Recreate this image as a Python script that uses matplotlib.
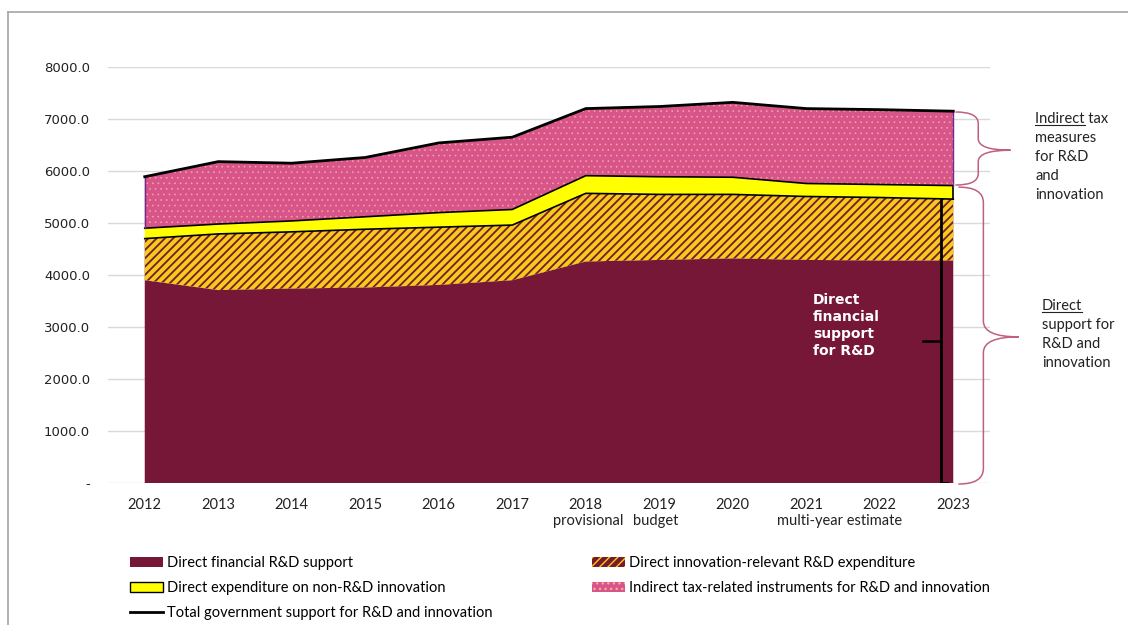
import numpy as np
import matplotlib
matplotlib.use("Agg")
import matplotlib.pyplot as plt
from matplotlib.path import Path
from matplotlib.patches import PathPatch, Patch
from matplotlib.lines import Line2D
from matplotlib.collections import LineCollection

# Government support for R&D and innovation (EUR million)
years = ["2012", "2013", "2014", "2015", "2016", "2017",
         "2018", "2019", "2020", "2021", "2022", "2023"]
year_notes = ["", "", "", "", "", "", "provisional", "budget", "", "", "", ""]
note_shift = [0, 0, 0, 0, 0, 0, 0.03, -0.05, 0, 0, 0, 0]
estimate_note = "multi-year estimate"

direct_financial = [3900, 3710, 3740, 3760, 3810, 3900, 4260, 4290, 4320, 4290, 4280, 4280]
innovation_rd = [800, 1080, 1090, 1120, 1110, 1060, 1310, 1260, 1230, 1220, 1210, 1180]
non_rd_innovation = [200, 190, 210, 240, 280, 300, 340, 340, 330, 250, 250, 260]
indirect_tax = [990, 1200, 1110, 1140, 1340, 1390, 1290, 1350, 1440, 1440, 1440, 1430]

labels = ["Direct financial R&D support",
          "Direct innovation-relevant R&D expenditure",
          "Direct expenditure on non-R&D innovation",
          "Indirect tax-related instruments for R&D and innovation",
          "Total government support for R&D and innovation"]

MAROON = "#761737"
HATCH_BG = "#7a1a26"
GOLD = "#f3cb1f"
YELLOW = "#ffff00"
PINK = "#d8558c"
DOT = "#f8ac90"
PURPLE = "#6a2c91"
BRACE = "#c0607e"

TEXT_FONT = ["Liberation Sans Narrow", "Lato", "DejaVu Sans"]

W, H = 1128, 625
AX_LEFT, AX_RIGHT, AX_TOP, AX_BOTTOM = 108, 990, 67, 483


def fx(px):
    return px / W


def fy(py):
    return 1 - py / H


def draw_brace(ax, x_end, x_spine, x_tip, y_top, y_bot, y_mid, ry):
    verts = [(x_end, y_top), (x_spine, y_top), (x_spine, y_top - ry),
             (x_spine, y_mid + ry), (x_spine, y_mid), (x_tip, y_mid),
             (x_spine, y_mid), (x_spine, y_mid - ry),
             (x_spine, y_bot + ry), (x_spine, y_bot), (x_end, y_bot)]
    codes = [Path.MOVETO, Path.CURVE3, Path.CURVE3, Path.LINETO, Path.CURVE3,
             Path.CURVE3, Path.CURVE3, Path.CURVE3, Path.LINETO, Path.CURVE3,
             Path.CURVE3]
    ax.add_patch(PathPatch(Path(verts, codes), facecolor="none", edgecolor=BRACE,
                           lw=1.1, clip_on=False, zorder=5))


def stripe_fill(ax, poly, xlim, ylim, step_px=8.3, width_pt=2.9):
    # 45-degree stripes (in screen space) clipped to the filled area
    px_per_x = (AX_RIGHT - AX_LEFT) / (xlim[1] - xlim[0])
    px_per_y = (AX_BOTTOM - AX_TOP) / (ylim[1] - ylim[0])
    slope = px_per_x / px_per_y
    step = step_px / px_per_x
    span = (ylim[1] - ylim[0]) / slope
    starts = np.arange(xlim[0] - span, xlim[1] + step, step)
    segs = [[(c, ylim[0]), (c + span, ylim[1])] for c in starts]
    lc = LineCollection(segs, colors=GOLD, linewidths=width_pt, zorder=2.1)
    ax.add_collection(lc, autolim=False)
    lc.set_clip_path(poly.get_paths()[0], ax.transData)


x = np.arange(len(years))
lvl1 = np.array(direct_financial)
lvl2 = lvl1 + np.array(innovation_rd)
lvl3 = lvl2 + np.array(non_rd_innovation)
total = lvl3 + np.array(indirect_tax)

xlim = (-0.5, 11.5)
ylim = (0, 8000)

fig = plt.figure(figsize=(W / 100, H / 100), dpi=100)
ax = fig.add_axes([fx(AX_LEFT), 1 - AX_BOTTOM / H, (AX_RIGHT - AX_LEFT) / W,
                   (AX_BOTTOM - AX_TOP) / H])

# stacked areas
ax.fill_between(x, 0, lvl1, facecolor=MAROON, edgecolor="none", lw=0, zorder=2)
innov_poly = ax.fill_between(x, lvl1, lvl2, facecolor=HATCH_BG, edgecolor="none",
                             lw=0, zorder=2)
stripe_fill(ax, innov_poly, xlim, ylim)
ax.fill_between(x, lvl2, lvl3, facecolor=YELLOW, edgecolor="none", lw=0, zorder=2)
with plt.rc_context({"hatch.linewidth": 0.4}):
    ax.fill_between(x, lvl3, total, facecolor=PINK, edgecolor=DOT, hatch="...",
                    lw=0, zorder=2)

# outlines
ax.plot(x, lvl2, color="black", lw=1.2, zorder=3)
ax.plot(x, lvl3, color="black", lw=1.2, zorder=3)
ax.plot([x[-1], x[-1]], [lvl2[-1], lvl3[-1]], color="black", lw=1.2, zorder=3)
ax.plot([x[0], x[0]], [lvl3[0], total[0]], color=PURPLE, lw=1, zorder=3)
ax.plot([x[-1], x[-1]], [lvl3[-1], total[-1]], color=PURPLE, lw=1, zorder=3)
ax.plot(x, total, color="black", lw=2, zorder=4)

# bracket for direct financial support
bx = 10.84
ax.plot([bx, bx, bx + 0.08], [lvl2[-1], 0, 0], color="black", lw=2, zorder=4,
        solid_joinstyle="round")
ax.plot([bx - 0.25, bx], [lvl2[-1] / 2, lvl2[-1] / 2], color="black", lw=1.8, zorder=4)
ax.text(9.09, 3650, "Direct\nfinancial\nsupport\nfor R&D", color="white",
        fontweight="bold", fontsize=10, va="top", ha="left", linespacing=1.27, zorder=5)

# braces on the right
draw_brace(ax, 11.03, 11.34, 11.78, 7135, 5730, 6400, 220)
draw_brace(ax, 11.07, 11.41, 11.89, 5690, -20, 2810, 300)

ax.set_xlim(*xlim)
ax.set_ylim(*ylim)
yt = np.arange(0, 8001, 1000)
ax.set_yticks(yt)
ax.set_yticklabels(["-" if v == 0 else f"{v:.1f}" for v in yt],
                   fontsize=9.5, color="#222222")
ax.set_xticks(x)
ax.set_xticklabels(years, fontsize=10.5, family=TEXT_FONT, color="#222222")
ax.tick_params(axis="both", length=0)
ax.tick_params(axis="y", pad=13)
ax.tick_params(axis="x", pad=11)
ax.yaxis.grid(True, color="#d9d9d9", lw=1)
ax.set_axisbelow(True)
for s in ax.spines.values():
    s.set_visible(False)

for xi, note, dx in zip(x, year_notes, note_shift):
    if note:
        ax.text(xi + dx, -740, note, ha="center", va="center", fontsize=10.5,
                family=TEXT_FONT, color="#222222")
ax.text(9.45, -740, estimate_note, ha="center", va="center", fontsize=10.5,
        family=TEXT_FONT, color="#222222")

# outer frame
fig.add_artist(Line2D([fx(8), 1.01], [fy(12), fy(12)], color="#a6a6a6", lw=1.2))
fig.add_artist(Line2D([fx(8), fx(8)], [-0.01, fy(12)], color="#a6a6a6", lw=1.2))

# side notes
side_font = dict(fontsize=10.5, family=["Lato", "DejaVu Sans"], color="#222222",
                 va="top", ha="left", linespacing=1.46)
renderer = fig.canvas.get_renderer()


def underlined_note(px, py, first, rest):
    fig.text(fx(px), fy(py), first + rest, **side_font)
    probe = fig.text(fx(px), fy(py), first, **side_font)
    bb = probe.get_window_extent(renderer)
    probe.remove()
    uy = bb.y0 + 1
    fig.add_artist(Line2D([bb.x0 / W, bb.x1 / W], [uy / H, uy / H],
                          color="#222222", lw=0.8))


underlined_note(1035, 112, "Indirect", " tax\nmeasures\nfor R&D\nand\ninnovation")
underlined_note(1042, 299, "Direct", "\nsupport for\nR&D and\ninnovation")

# legend
h_fin = Patch(facecolor=MAROON, edgecolor="none", lw=0)
h_nonrd = Patch(facecolor=YELLOW, edgecolor="black", lw=1)
h_total = Line2D([], [], color="black", lw=2)
with plt.rc_context({"hatch.linewidth": 2.4}):
    h_innov = Patch(facecolor=HATCH_BG, edgecolor=GOLD, hatch="////", lw=0)
with plt.rc_context({"hatch.linewidth": 0.4}):
    h_tax = Patch(facecolor=PINK, edgecolor=DOT, hatch="...", lw=0)

leg_kw = dict(frameon=False, loc="upper left", borderpad=0, borderaxespad=0,
              handlelength=2.25, handleheight=0.7, handletextpad=0.3,
              labelspacing=0.75, prop={"family": TEXT_FONT, "size": 10.5})
fig.legend([h_fin, h_nonrd, h_total], [labels[0], labels[2], labels[4]],
           bbox_to_anchor=(fx(130), fy(556)), **leg_kw)
fig.legend([h_innov, h_tax], [labels[1], labels[3]],
           bbox_to_anchor=(fx(592), fy(556)), **leg_kw)

fig.savefig("out.png", dpi=100)
